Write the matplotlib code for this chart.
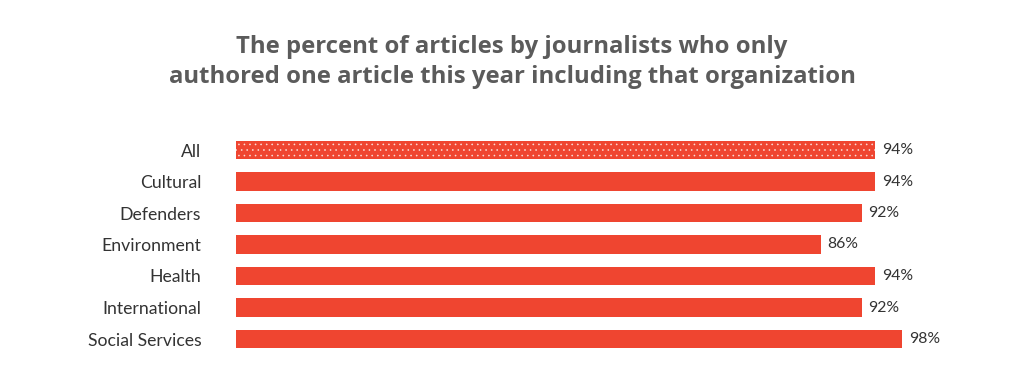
import matplotlib.pyplot as plt

categories = ["All", "Cultural", "Defenders", "Environment", "Health",
              "International", "Social Services"]
values = [94, 94, 92, 86, 94, 92, 98]
value_labels = ["94%", "94%", "92%", "86%", "94%", "92%", "98%"]

red = "#ef4530"
plt.rcParams["font.family"] = ["Lato", "DejaVu Sans"]
plt.rcParams["hatch.linewidth"] = 0.4

fig = plt.figure(figsize=(10.24, 3.75), dpi=100)
ax = fig.add_axes([236 / 1024, 1 - 354.75 / 375, 680 / 1024, 220.5 / 375])

ypos = list(range(len(categories)))
bars = ax.barh(ypos, values, height=0.6, color=red, edgecolor="none")
bars[0].set_hatch("...")
bars[0].set_edgecolor("#fbe0dc")
bars[0].set_linewidth(0)

for y, v, lab in zip(ypos, values, value_labels):
    ax.text(v + 1.0, y, lab, va="center", ha="left", fontsize=11.3, color="#333333")

ax.set_xlim(0, 100)
ax.set_ylim(len(categories) - 0.5, -0.5)
ax.set_yticks(ypos)
ax.set_yticklabels(categories, fontsize=12.7, color="#333333")
ax.tick_params(axis="y", length=0, pad=25)
ax.set_xticks([])
for s in ax.spines.values():
    s.set_visible(False)

title_font = dict(ha="center", va="center", fontsize=17.2, fontweight="bold",
                  color="#5b5b5b", family=["Open Sans", "DejaVu Sans"])
fig.text(0.5, 1 - 47 / 375, "The percent of articles by journalists who only", **title_font)
fig.text(0.5, 1 - 77 / 375, "authored one article this year including that organization", **title_font)

fig.savefig("out.png", dpi=100)
